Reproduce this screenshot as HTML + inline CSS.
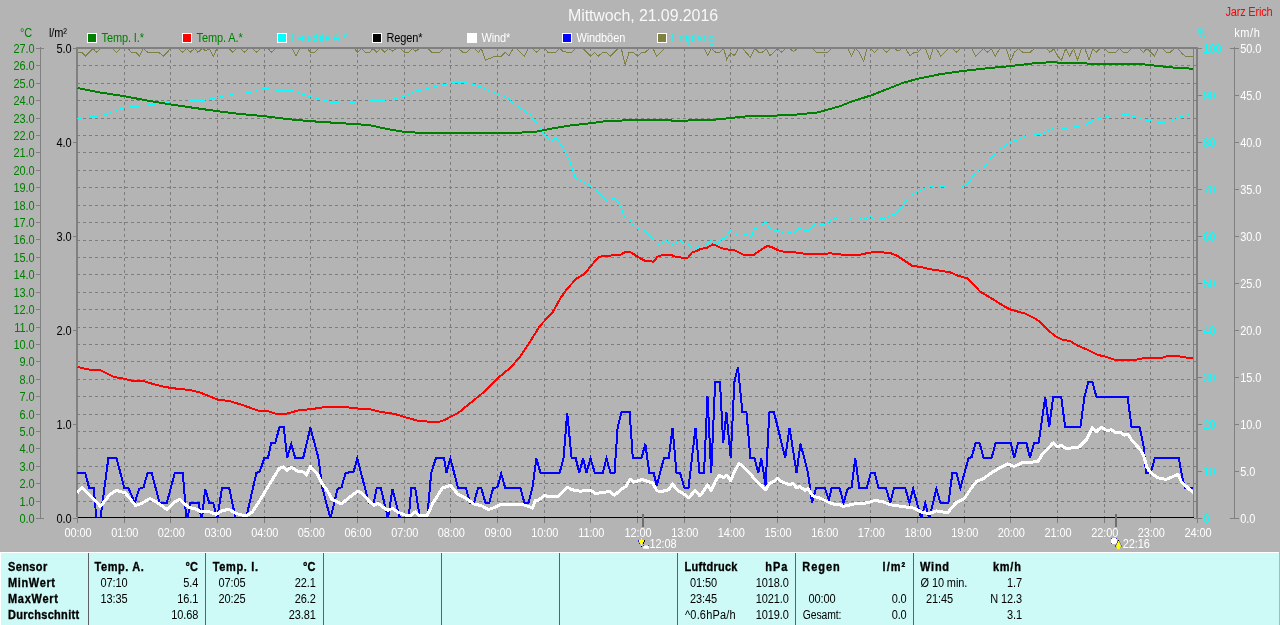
<!DOCTYPE html>
<html lang="de"><head><meta charset="utf-8"><title>Mittwoch, 21.09.2016</title>
<style>html,body{margin:0;padding:0;background:#B4B4B4;overflow:hidden}svg{display:block;will-change:transform}</style>
</head><body>
<svg width="1280" height="625" viewBox="0 0 1280 625" font-family="&quot;Liberation Sans&quot;, sans-serif" font-size="11px" letter-spacing="-0.1">
<rect width="1280" height="625" fill="#B4B4B4"/>
<path d="M124.2 48V517 M170.8 48V517 M217.5 48V517 M264.2 48V517 M310.8 48V517 M357.5 48V517 M404.2 48V517 M450.8 48V517 M497.5 48V517 M544.2 48V517 M590.8 48V517 M637.5 48V517 M684.2 48V517 M730.8 48V517 M777.5 48V517 M824.2 48V517 M870.8 48V517 M917.5 48V517 M964.2 48V517 M1010.8 48V517 M1057.5 48V517 M1104.2 48V517 M1150.8 48V517 M77 501.1H1197 M77 483.7H1197 M77 466.3H1197 M77 448.9H1197 M77 431.5H1197 M77 414.1H1197 M77 396.6H1197 M77 379.2H1197 M77 361.8H1197 M77 344.4H1197 M77 327.0H1197 M77 309.6H1197 M77 292.2H1197 M77 274.8H1197 M77 257.4H1197 M77 240.0H1197 M77 222.6H1197 M77 205.2H1197 M77 187.8H1197 M77 170.4H1197 M77 152.9H1197 M77 135.5H1197 M77 118.1H1197 M77 100.7H1197 M77 83.3H1197 M77 65.9H1197" stroke="#7d7d7d" stroke-width="1" stroke-dasharray="3 3" fill="none" shape-rendering="crispEdges"/>
<path d="M124.2 518V523 M170.8 518V523 M217.5 518V523 M264.2 518V523 M310.8 518V523 M357.5 518V523 M404.2 518V523 M450.8 518V523 M497.5 518V523 M544.2 518V523 M590.8 518V523 M637.5 518V523 M684.2 518V523 M730.8 518V523 M777.5 518V523 M824.2 518V523 M870.8 518V523 M917.5 518V523 M964.2 518V523 M1010.8 518V523 M1057.5 518V523 M1104.2 518V523 M1150.8 518V523" stroke="#7d7d7d" stroke-width="1" fill="none" shape-rendering="crispEdges"/>
<rect x="76" y="47" width="2" height="470" fill="#808080"/><rect x="77" y="517" width="1" height="6" fill="#808080"/>
<clipPath id="pc"><rect x="77" y="47" width="1117" height="470"/></clipPath><g clip-path="url(#pc)" shape-rendering="crispEdges">
<polyline points="77.7,52.3 82.0,52.3 85.3,56.2 93.0,48.5 96.3,52.3 100.6,48.5 112.7,48.5 116.4,52.3 120.8,48.5 128.0,48.5 131.3,52.3 135.6,52.3 139.6,56.2 143.3,48.5 147.7,52.3 158.6,52.3 163.6,56.2 170.6,48.5 178.3,48.5 182.7,52.3 186.6,48.5 190.3,52.3 194.3,48.5 198.0,52.3 201.9,48.5 205.6,50.7 209.4,48.5 213.3,56.2 217.0,48.5 228.6,48.5 233.0,52.3 236.3,48.5 240.2,48.5 244.4,52.3 248.3,48.5 252.7,48.5 256.4,52.3 260.3,48.5 268.0,48.5 271.3,52.3 275.6,48.5 292.0,48.5 296.0,55.6 299.7,48.5 307.4,48.5 310.6,52.3 315.0,52.3 318.3,48.5 354.4,48.5 357.7,52.3 361.4,48.5 365.3,52.3 369.7,52.3 373.0,48.5 376.7,52.3 380.6,48.5 385.0,52.3 388.7,48.5 392.7,51.2 396.4,48.5 400.3,48.5 404.7,52.3 408.6,52.3 412.3,48.5 415.6,51.2 419.6,48.5 427.7,48.5 432.0,52.3 439.7,52.3 443.6,48.5 458.7,48.5 462.7,52.3 466.6,52.3 470.3,48.5 474.7,48.5 478.6,52.3 481.3,48.5 485.6,60.2 493.3,56.9 501.4,56.2 505.3,52.3 509.0,56.2 513.0,48.5 516.3,48.5 524.4,56.2 528.3,48.5 532.7,48.5 536.4,52.3 540.3,48.5 544.3,48.5 548.0,52.3 555.6,52.3 559.6,48.5 563.3,51.6 571.0,52.9 575.3,48.5 583.0,48.5 590.6,56.2 594.6,52.3 598.3,56.2 602.7,52.3 606.0,52.3 610.3,56.2 618.0,48.5 621.3,48.5 625.2,65.0 629.0,52.3 633.3,52.3 637.7,56.2 641.4,52.3 645.3,52.3 649.3,48.5 653.0,48.5 656.7,56.2 664.6,48.5 704.4,48.5 707.7,55.1 711.4,48.5 715.8,52.3 719.7,52.3 723.6,48.5 726.7,59.5 730.6,52.9 734.4,55.6 738.3,48.5 742.7,48.5 750.3,57.3 754.7,48.5 759.0,52.3 762.4,52.3 766.3,48.5 770.0,55.6 777.7,48.5 781.4,52.3 785.3,48.5 789.7,48.5 793.6,51.6 797.4,48.5 812.7,48.5 816.4,52.3 828.0,52.3 831.3,48.5 847.7,48.5 851.6,56.2 855.3,48.5 859.3,52.3 863.6,61.3 866.9,48.5 870.6,48.5 874.6,52.3 878.3,48.5 882.7,48.5 886.4,52.3 890.3,48.5 894.3,48.5 898.0,51.2 901.9,48.5 905.6,48.5 910.0,55.6 914.4,52.3 917.7,52.3 921.4,48.5 925.3,48.5 929.7,59.5 933.0,48.5 936.3,48.5 940.6,56.2 948.7,48.5 952.7,48.5 956.4,52.3 960.3,48.5 971.9,48.5 975.6,56.2 983.3,48.5 987.7,52.3 991.4,48.5 995.3,56.2 999.7,48.5 1006.3,48.5 1010.6,61.3 1014.4,52.3 1018.3,48.5 1022.7,52.3 1030.3,52.3 1034.3,48.5 1046.3,48.5 1050.0,52.3 1054.0,48.5 1057.7,56.2 1061.4,60.2 1065.8,48.5 1069.7,56.2 1073.6,48.5 1077.4,60.2 1081.7,48.5 1085.0,48.5 1089.0,60.2 1092.7,48.5 1096.0,52.3 1100.3,48.5 1104.7,48.5 1108.0,52.3 1115.6,52.3 1119.6,48.5 1123.3,52.3 1127.7,52.3 1131.6,48.5 1139.3,48.5 1143.6,52.3 1146.9,48.5 1154.6,56.2 1158.3,48.5 1162.7,48.5 1166.4,52.3 1170.3,52.3 1174.3,48.5 1178.0,48.5 1182.4,54.0 1185.6,56.2 1193.5,56.2" fill="none" stroke="#808040" stroke-width="1"/>
<polyline points="77.5,118.5 102.5,115.5 124.5,107.5 145.0,105.5 170.8,101.8 202.5,100.5 217.5,97.5 232.5,94.2 250.0,92.5 264.2,88.2 277.5,90.2 292.5,90.5 310.8,97.0 332.5,102.5 345.0,103.5 357.5,101.8 390.0,99.7 404.2,96.2 415.0,91.2 430.0,88.0 450.8,83.0 465.0,82.5 475.0,84.5 485.0,89.0 497.5,93.8 507.5,98.0 520.0,108.0 530.0,114.5 540.0,127.5 544.2,134.5 551.2,142.0 555.5,137.5 562.5,146.2 570.0,162.5 575.0,177.0 580.0,180.5 590.8,186.2 598.8,193.0 606.2,200.5 613.8,198.2 618.8,202.5 625.0,218.0 628.8,217.0 633.8,227.0 645.0,230.5 651.2,237.0 656.2,243.8 660.5,245.8 664.2,239.5 672.5,244.5 680.8,240.5 685.0,244.2 688.0,243.0 691.8,249.5 695.5,249.2 702.5,241.2 706.2,245.0 711.2,240.5 716.2,244.2 721.2,239.5 726.2,237.5 730.8,229.5 735.0,234.2 740.0,235.5 746.2,234.5 750.8,237.0 755.0,228.2 758.8,229.5 765.5,221.8 769.2,228.0 773.8,230.0 777.5,230.0 785.5,233.8 790.0,232.0 793.2,233.8 798.8,228.2 808.0,231.2 813.8,225.0 817.5,223.2 824.2,225.0 832.5,219.5 840.0,217.0 843.8,218.0 847.5,217.0 852.5,219.5 858.8,219.2 862.5,217.5 866.2,219.0 870.0,216.5 875.0,219.5 885.0,218.2 893.8,214.5 900.0,209.2 910.0,195.5 925.0,188.0 936.2,185.5 950.0,188.0 960.0,187.8 968.0,184.0 976.0,172.0 983.8,167.0 997.5,150.5 1010.8,142.5 1025.0,136.2 1040.0,134.2 1056.2,127.0 1065.0,128.5 1085.0,125.0 1095.0,119.5 1110.0,115.8 1127.5,114.5 1145.0,120.0 1160.0,122.5 1170.0,121.5 1182.5,116.2 1193.0,113.2" fill="none" stroke="#00FFFF" stroke-width="1" stroke-linejoin="round"/>
<polyline points="77.5,88.0 100.0,92.5 124.5,96.2 147.0,100.5 170.8,104.5 195.0,108.0 217.5,111.2 240.0,114.0 264.2,116.2 287.0,119.0 310.8,121.2 335.0,122.8 357.5,124.2 370.0,125.2 380.0,127.5 390.0,129.5 404.2,131.8 420.0,132.8 450.0,132.8 515.0,132.8 535.0,132.0 544.2,130.0 555.0,128.0 570.0,125.5 590.8,123.2 605.0,121.2 622.5,120.5 637.5,120.0 670.0,120.0 672.5,120.8 710.0,120.1 730.8,118.0 747.5,116.2 777.5,115.5 797.5,114.5 817.5,112.5 840.0,106.2 852.5,101.2 870.8,95.5 890.0,88.0 902.5,83.0 917.5,78.8 940.0,74.2 964.2,70.8 985.0,68.5 1010.8,66.0 1035.0,63.2 1053.8,62.0 1060.0,63.0 1085.0,63.2 1090.0,64.0 1140.0,64.0 1150.8,65.2 1172.5,67.5 1193.8,68.8" fill="none" stroke="#008000" stroke-width="2" stroke-linejoin="round"/>
<polyline points="77.5,367.0 88.8,369.5 100.0,370.0 113.8,377.0 124.5,378.8 132.5,380.8 142.5,380.8 155.0,384.5 165.0,387.0 177.5,388.8 190.0,390.0 200.0,392.5 217.5,399.5 230.0,401.2 242.5,405.0 257.5,410.5 267.5,411.0 276.2,413.8 286.2,413.8 300.0,410.0 311.2,409.2 325.0,407.0 345.0,407.0 357.5,408.5 370.0,409.2 380.0,411.8 394.4,413.8 404.3,417.0 418.4,420.8 437.6,422.4 444.0,420.2 458.4,412.8 472.8,401.0 484.0,392.0 497.8,378.2 511.2,367.0 520.8,355.7 532.0,338.6 540.0,325.8 552.8,312.0 560.8,297.6 567.2,288.6 576.8,278.4 584.8,273.6 591.2,265.6 598.6,257.0 605.0,255.8 620.0,255.0 625.8,251.8 631.2,252.5 638.8,257.5 644.5,260.5 653.8,261.8 657.5,256.8 662.5,255.0 671.2,255.0 675.0,256.5 682.5,257.8 688.2,257.5 691.8,252.5 696.2,251.2 701.2,248.8 707.5,247.5 712.5,244.5 716.2,245.5 721.2,248.0 727.5,249.5 733.8,250.0 743.8,255.0 753.8,255.0 761.2,249.5 767.5,245.8 772.5,247.5 778.8,250.5 783.8,251.8 792.5,252.0 805.0,253.8 827.5,253.8 830.0,252.8 832.5,253.8 845.0,254.8 860.0,254.8 867.5,253.0 875.0,252.0 890.0,252.8 897.5,256.0 912.5,266.0 920.0,266.8 930.0,269.2 950.0,272.2 957.5,275.5 967.5,278.5 980.0,291.5 992.5,299.0 1005.0,306.8 1011.2,309.8 1025.0,313.5 1035.0,318.5 1041.2,322.8 1046.2,328.5 1055.0,336.0 1062.5,339.8 1070.0,341.0 1077.5,345.5 1087.5,349.8 1097.5,354.8 1105.0,356.5 1115.0,359.8 1135.0,359.8 1145.0,358.0 1162.5,357.8 1167.5,356.0 1177.5,356.0 1187.5,357.8 1193.8,357.8" fill="none" stroke="#FF0000" stroke-width="2" stroke-linejoin="round"/>
<polyline points="77.2,472.8 85.2,472.8 89.2,488.0 93.7,488.0 96.4,518.5 100.4,518.5 108.4,457.9 116.4,457.9 124.4,488.0 128.4,488.0 134.8,502.9 139.1,488.8 143.6,487.2 147.6,472.8 151.6,472.8 159.6,502.9 166.8,502.9 174.8,472.8 182.8,472.8 185.2,502.9 186.0,518.5 187.6,518.5 190.0,502.9 198.8,502.9 201.2,518.5 202.0,518.5 205.2,488.8 209.2,502.9 213.2,502.9 217.2,518.5 222.0,488.0 229.2,488.0 235.6,518.5 246.0,518.5 256.4,472.8 259.6,472.0 264.4,457.9 268.0,457.9 271.2,443.2 275.2,443.2 279.5,426.9 283.7,426.9 287.2,457.9 291.2,444.0 295.2,457.9 303.2,457.9 310.4,427.7 318.4,457.9 322.4,488.0 330.4,518.5 337.6,488.8 341.6,487.2 345.6,472.8 353.6,472.0 357.3,458.4 368.8,502.9 373.6,502.9 376.8,488.0 380.8,488.0 388.0,518.5 392.5,488.8 400.0,518.5 408.8,518.5 411.2,488.0 415.2,488.0 420.0,518.5 427.2,518.5 431.2,472.8 436.0,457.9 444.0,457.9 446.4,472.8 450.4,458.4 458.0,488.0 466.0,488.0 470.0,502.9 474.0,502.9 478.0,488.0 481.2,488.0 485.5,502.9 489.2,502.9 493.2,488.0 497.5,487.2 501.2,473.6 505.2,488.0 520.4,488.0 524.4,502.9 528.4,502.9 532.4,488.0 536.4,458.4 540.4,472.8 559.6,472.8 563.6,457.9 567.2,412.8 571.6,457.9 575.6,457.9 579.3,472.8 583.1,458.4 586.5,472.8 590.5,458.4 594.8,472.8 602.8,472.8 606.5,458.4 610.5,472.8 614.5,472.8 617.6,428.0 621.6,411.7 629.6,411.7 632.8,458.0 641.6,458.0 645.3,443.7 649.3,472.8 653.6,472.8 656.8,485.6 664.0,457.9 668.8,457.9 672.5,427.7 676.5,472.8 680.0,472.8 684.5,488.0 688.5,488.0 695.5,427.7 699.5,472.8 704.0,472.8 707.5,396.5 711.2,472.8 715.2,382.0 720.0,382.0 723.2,442.8 726.4,412.4 730.7,457.9 734.4,382.0 737.9,367.0 742.4,411.6 746.4,411.6 750.4,457.9 754.4,457.9 758.4,472.8 761.3,458.4 765.6,485.6 769.3,412.4 773.6,411.6 776.0,420.4 785.3,457.9 789.6,427.7 796.5,472.8 800.5,443.7 808.0,472.8 812.0,502.9 816.0,488.0 824.8,488.0 828.8,500.0 831.6,488.0 839.6,488.0 843.6,502.9 847.6,488.8 851.6,487.2 855.3,458.4 859.3,488.0 866.8,488.0 870.8,472.8 874.8,472.8 878.5,488.0 886.0,488.0 890.3,502.9 894.0,488.0 905.2,488.0 909.5,502.9 913.2,488.8 921.2,518.5 925.2,503.2 929.2,518.5 936.4,488.8 940.4,502.9 948.4,502.9 952.4,472.8 956.4,472.8 960.4,488.0 968.4,458.4 971.6,457.1 975.6,443.2 979.6,443.2 983.6,457.9 991.6,457.9 995.6,443.2 1010.8,443.2 1014.3,457.9 1018.0,443.2 1026.5,443.2 1030.0,457.9 1034.0,443.2 1038.8,442.5 1045.2,397.2 1049.2,427.1 1053.2,396.9 1061.2,396.9 1065.2,427.1 1080.4,427.1 1084.4,396.9 1088.4,382.0 1092.4,382.0 1096.4,396.9 1127.6,396.9 1131.6,427.1 1139.6,427.1 1143.6,446.0 1146.0,472.8 1150.8,472.8 1154.8,457.9 1178.8,457.9 1182.0,476.0 1185.2,488.0 1194.0,488.0" fill="none" stroke="#0000FF" stroke-width="2" stroke-linejoin="miter"/>
<polyline points="77.2,492.8 82.0,487.2 90.8,496.0 100.4,506.4 110.0,494.4 116.4,490.4 125.2,492.8 135.6,505.6 142.0,503.2 150.0,498.4 159.6,504.0 166.8,509.6 174.0,502.4 179.6,499.2 188.4,507.2 194.8,508.8 202.0,512.0 207.6,511.2 216.4,514.4 222.0,510.4 229.2,509.6 236.4,513.6 246.0,516.0 252.4,512.0 262.0,496.8 269.6,484.0 279.2,468.5 283.2,466.9 287.2,470.4 291.2,467.2 297.6,471.2 303.2,472.0 306.4,475.2 310.4,466.4 317.6,474.4 322.4,484.0 327.2,490.4 332.0,499.2 336.8,501.6 341.6,504.0 348.0,498.4 357.6,491.2 362.4,493.6 368.8,500.8 373.9,505.6 377.6,503.2 383.2,507.2 388.0,510.4 392.5,508.3 397.6,512.0 405.6,515.2 411.2,515.2 415.2,512.0 418.4,515.2 427.2,515.5 432.8,503.2 442.4,488.0 450.4,485.3 458.0,494.4 466.0,498.4 474.0,504.0 481.2,505.6 488.4,509.6 493.2,508.0 501.2,504.0 520.4,504.0 528.4,506.4 532.4,508.0 535.6,500.0 538.8,500.0 544.4,495.2 547.6,496.5 558.8,496.0 567.6,487.2 571.6,489.6 579.6,491.2 590.8,490.4 595.6,493.6 602.8,492.3 610.0,491.7 614.5,495.2 622.0,488.8 626.0,486.4 630.0,479.2 634.0,482.1 642.0,479.5 652.8,483.2 656.8,490.4 660.0,492.0 668.8,489.6 672.5,484.0 677.6,490.4 683.2,493.6 688.8,497.6 695.2,490.4 700.0,496.0 704.0,490.4 707.5,484.8 711.2,490.4 715.2,481.6 719.2,475.2 723.2,477.6 726.9,475.2 730.7,480.8 734.4,471.2 739.2,463.5 744.8,468.0 750.4,473.6 755.2,480.0 761.6,485.6 765.6,489.9 769.6,483.2 773.6,481.6 777.6,478.4 781.6,481.6 789.6,484.8 792.8,483.2 796.8,488.0 800.0,486.4 804.8,490.4 808.0,488.8 812.8,496.0 820.8,498.4 828.8,502.4 835.6,504.8 838.8,504.0 843.6,506.4 854.0,504.0 866.8,502.9 874.8,500.5 882.8,501.6 890.3,504.8 902.0,506.4 913.2,508.0 921.2,512.0 929.2,513.6 936.4,510.9 947.6,512.8 956.4,502.4 964.4,498.4 970.8,488.8 976.4,481.6 983.6,478.4 991.6,472.8 999.6,468.0 1007.6,464.0 1014.0,466.4 1022.0,462.9 1038.0,461.6 1042.8,453.6 1053.2,442.9 1057.5,446.9 1061.2,445.3 1066.0,448.5 1078.8,447.2 1086.8,439.2 1092.4,427.7 1096.4,431.5 1101.2,427.2 1107.6,430.9 1110.8,429.6 1115.6,432.5 1120.4,432.5 1124.4,435.2 1128.0,434.0 1131.6,440.0 1139.6,448.8 1143.6,455.2 1146.8,467.2 1150.8,472.8 1157.2,477.6 1166.0,479.5 1178.0,474.4 1181.2,481.6 1194.0,493.6" fill="none" stroke="#FFFFFF" stroke-width="3" stroke-linejoin="round"/>
</g>
<rect x="78" y="47" width="1120" height="2" fill="#808080"/>
<rect x="1193" y="49" width="1" height="468" fill="#808080"/>
<rect x="1196" y="47" width="2" height="471" fill="#808080"/><rect x="1197" y="518" width="1" height="5" fill="#808080"/>
<rect x="78" y="517" width="1116" height="1" fill="#000"/>
<rect x="642" y="514" width="2" height="13" fill="#6e6e6e"/>
<rect x="1115" y="514" width="2" height="13" fill="#6e6e6e"/>
<rect x="40" y="47" width="1" height="471" fill="#808080"/>
<path d="M36 518.5H44 M36 501.5H40 M36 483.5H40 M36 466.5H40 M36 448.5H40 M36 431.5H40 M36 414.5H40 M36 396.5H40 M36 379.5H40 M36 361.5H40 M36 344.5H40 M36 327.5H40 M36 309.5H40 M36 292.5H40 M36 274.5H40 M36 257.5H40 M36 239.5H40 M36 222.5H40 M36 205.5H40 M36 187.5H40 M36 170.5H40 M36 152.5H40 M36 135.5H40 M36 118.5H40 M36 100.5H40 M36 83.5H40 M36 65.5H40 M36 48.5H44" stroke="#808080" stroke-width="1" fill="none" shape-rendering="crispEdges"/>
<text transform="translate(34.4 523.0) scale(1 1.12)" text-anchor="end" fill="#008000">0.0</text>
<text transform="translate(34.4 506.0) scale(1 1.12)" text-anchor="end" fill="#008000">1.0</text>
<text transform="translate(34.4 488.0) scale(1 1.12)" text-anchor="end" fill="#008000">2.0</text>
<text transform="translate(34.4 471.0) scale(1 1.12)" text-anchor="end" fill="#008000">3.0</text>
<text transform="translate(34.4 453.0) scale(1 1.12)" text-anchor="end" fill="#008000">4.0</text>
<text transform="translate(34.4 436.0) scale(1 1.12)" text-anchor="end" fill="#008000">5.0</text>
<text transform="translate(34.4 419.0) scale(1 1.12)" text-anchor="end" fill="#008000">6.0</text>
<text transform="translate(34.4 401.0) scale(1 1.12)" text-anchor="end" fill="#008000">7.0</text>
<text transform="translate(34.4 384.0) scale(1 1.12)" text-anchor="end" fill="#008000">8.0</text>
<text transform="translate(34.4 366.0) scale(1 1.12)" text-anchor="end" fill="#008000">9.0</text>
<text transform="translate(34.4 349.0) scale(1 1.12)" text-anchor="end" fill="#008000">10.0</text>
<text transform="translate(34.4 332.0) scale(1 1.12)" text-anchor="end" fill="#008000">11.0</text>
<text transform="translate(34.4 314.0) scale(1 1.12)" text-anchor="end" fill="#008000">12.0</text>
<text transform="translate(34.4 297.0) scale(1 1.12)" text-anchor="end" fill="#008000">13.0</text>
<text transform="translate(34.4 279.0) scale(1 1.12)" text-anchor="end" fill="#008000">14.0</text>
<text transform="translate(34.4 262.0) scale(1 1.12)" text-anchor="end" fill="#008000">15.0</text>
<text transform="translate(34.4 244.0) scale(1 1.12)" text-anchor="end" fill="#008000">16.0</text>
<text transform="translate(34.4 227.0) scale(1 1.12)" text-anchor="end" fill="#008000">17.0</text>
<text transform="translate(34.4 210.0) scale(1 1.12)" text-anchor="end" fill="#008000">18.0</text>
<text transform="translate(34.4 192.0) scale(1 1.12)" text-anchor="end" fill="#008000">19.0</text>
<text transform="translate(34.4 175.0) scale(1 1.12)" text-anchor="end" fill="#008000">20.0</text>
<text transform="translate(34.4 157.0) scale(1 1.12)" text-anchor="end" fill="#008000">21.0</text>
<text transform="translate(34.4 140.0) scale(1 1.12)" text-anchor="end" fill="#008000">22.0</text>
<text transform="translate(34.4 123.0) scale(1 1.12)" text-anchor="end" fill="#008000">23.0</text>
<text transform="translate(34.4 105.0) scale(1 1.12)" text-anchor="end" fill="#008000">24.0</text>
<text transform="translate(34.4 88.0) scale(1 1.12)" text-anchor="end" fill="#008000">25.0</text>
<text transform="translate(34.4 70.0) scale(1 1.12)" text-anchor="end" fill="#008000">26.0</text>
<text transform="translate(34.4 53.0) scale(1 1.12)" text-anchor="end" fill="#008000">27.0</text>
<text transform="translate(71.4 523.0) scale(1 1.12)" text-anchor="end" fill="#000">0.0</text>
<text transform="translate(71.4 429.0) scale(1 1.12)" text-anchor="end" fill="#000">1.0</text>
<text transform="translate(71.4 335.0) scale(1 1.12)" text-anchor="end" fill="#000">2.0</text>
<text transform="translate(71.4 241.0) scale(1 1.12)" text-anchor="end" fill="#000">3.0</text>
<text transform="translate(71.4 147.0) scale(1 1.12)" text-anchor="end" fill="#000">4.0</text>
<text transform="translate(71.4 53.0) scale(1 1.12)" text-anchor="end" fill="#000">5.0</text>
<path d="M73 518.5H77 M73 424.5H77 M73 330.5H77 M73 236.5H77 M73 142.5H77 M73 48.5H77" stroke="#808080" stroke-width="1" fill="none" shape-rendering="crispEdges"/>
<text transform="translate(1203.2 523.0) scale(1 1.12)" fill="#00FFFF">0</text>
<text transform="translate(1203.2 476.0) scale(1 1.12)" fill="#00FFFF">10</text>
<text transform="translate(1203.2 429.0) scale(1 1.12)" fill="#00FFFF">20</text>
<text transform="translate(1203.2 382.0) scale(1 1.12)" fill="#00FFFF">30</text>
<text transform="translate(1203.2 335.0) scale(1 1.12)" fill="#00FFFF">40</text>
<text transform="translate(1203.2 288.0) scale(1 1.12)" fill="#00FFFF">50</text>
<text transform="translate(1203.2 241.0) scale(1 1.12)" fill="#00FFFF">60</text>
<text transform="translate(1203.2 194.0) scale(1 1.12)" fill="#00FFFF">70</text>
<text transform="translate(1203.2 147.0) scale(1 1.12)" fill="#00FFFF">80</text>
<text transform="translate(1203.2 100.0) scale(1 1.12)" fill="#00FFFF">90</text>
<text transform="translate(1203.2 53.0) scale(1 1.12)" fill="#00FFFF">100</text>
<path d="M1194 518.5H1202 M1198 471.5H1202 M1198 424.5H1202 M1198 377.5H1202 M1198 330.5H1202 M1198 283.5H1202 M1198 236.5H1202 M1198 189.5H1202 M1198 142.5H1202 M1198 95.5H1202 M1198 48.5H1202" stroke="#808080" stroke-width="1" fill="none" shape-rendering="crispEdges"/>
<rect x="1234" y="47" width="1" height="471" fill="#808080"/>
<text transform="translate(1240.2 523.0) scale(1 1.12)" fill="#FFFFFF">0.0</text>
<text transform="translate(1240.2 476.0) scale(1 1.12)" fill="#FFFFFF">5.0</text>
<text transform="translate(1240.2 429.0) scale(1 1.12)" fill="#FFFFFF">10.0</text>
<text transform="translate(1240.2 382.0) scale(1 1.12)" fill="#FFFFFF">15.0</text>
<text transform="translate(1240.2 335.0) scale(1 1.12)" fill="#FFFFFF">20.0</text>
<text transform="translate(1240.2 288.0) scale(1 1.12)" fill="#FFFFFF">25.0</text>
<text transform="translate(1240.2 241.0) scale(1 1.12)" fill="#FFFFFF">30.0</text>
<text transform="translate(1240.2 194.0) scale(1 1.12)" fill="#FFFFFF">35.0</text>
<text transform="translate(1240.2 147.0) scale(1 1.12)" fill="#FFFFFF">40.0</text>
<text transform="translate(1240.2 100.0) scale(1 1.12)" fill="#FFFFFF">45.0</text>
<text transform="translate(1240.2 53.0) scale(1 1.12)" fill="#FFFFFF">50.0</text>
<path d="M1230 518.5H1239 M1234 471.5H1239 M1234 424.5H1239 M1234 377.5H1239 M1234 330.5H1239 M1234 283.5H1239 M1234 236.5H1239 M1234 189.5H1239 M1234 142.5H1239 M1234 95.5H1239 M1230 48.5H1239" stroke="#808080" stroke-width="1" fill="none" shape-rendering="crispEdges"/>
<text transform="translate(20 37) scale(1 1.12)" fill="#008000">°C</text>
<text transform="translate(49 37) scale(1 1.12)" fill="#000">l/m²</text>
<text transform="translate(1198 37) scale(1 1.12)" fill="#00FFFF" textLength="8" lengthAdjust="spacingAndGlyphs">%</text>
<text transform="translate(1234.2 37) scale(1 1.12)" fill="#FFFFFF" textLength="25.5">km/h</text>
<text transform="translate(1225.5 16) scale(1 1.12)" fill="#FF0000" textLength="47">Jarz Erich</text>
<text transform="translate(643 21) scale(1 1.04)" font-size="16px" text-anchor="middle" fill="#FFFFFF" fill-opacity=".9" textLength="150">Mittwoch, 21.09.2016</text>
<rect x="87" y="33" width="10" height="10" fill="#FFFFFF"/><rect x="88" y="34" width="8" height="8" fill="#008000"/>
<text transform="translate(101.5 42) scale(1 1.12)" fill="#008000">Temp. I.*</text>
<rect x="182" y="33" width="10" height="10" fill="#FFFFFF"/><rect x="183" y="34" width="8" height="8" fill="#FF0000"/>
<text transform="translate(196.5 42) scale(1 1.12)" fill="#008000">Temp. A.*</text>
<rect x="277" y="33" width="10" height="10" fill="#FFFFFF"/><rect x="278" y="34" width="8" height="8" fill="#00FFFF"/>
<text transform="translate(291.5 42) scale(1 1.12)" fill="#00FFFF">Feuchte A.*</text>
<rect x="372" y="33" width="10" height="10" fill="#FFFFFF"/><rect x="373" y="34" width="8" height="8" fill="#000000"/>
<text transform="translate(386.5 42) scale(1 1.12)" fill="#000000">Regen*</text>
<rect x="467" y="33" width="10" height="10" fill="#FFFFFF"/><rect x="468" y="34" width="8" height="8" fill="#FFFFFF"/>
<text transform="translate(481.5 42) scale(1 1.12)" fill="#FFFFFF">Wind*</text>
<rect x="562" y="33" width="10" height="10" fill="#FFFFFF"/><rect x="563" y="34" width="8" height="8" fill="#0000FF"/>
<text transform="translate(576.5 42) scale(1 1.12)" fill="#FFFFFF">Windböen</text>
<rect x="657" y="33" width="10" height="10" fill="#FFFFFF"/><rect x="658" y="34" width="8" height="8" fill="#808040"/>
<text transform="translate(671.5 42) scale(1 1.12)" fill="#00FFFF">Empfang</text>
<text transform="translate(78.0 536.9) scale(1 1.12)" text-anchor="middle" fill="#FFFFFF">00:00</text>
<text transform="translate(124.7 536.9) scale(1 1.12)" text-anchor="middle" fill="#FFFFFF">01:00</text>
<text transform="translate(171.3 536.9) scale(1 1.12)" text-anchor="middle" fill="#FFFFFF">02:00</text>
<text transform="translate(218.0 536.9) scale(1 1.12)" text-anchor="middle" fill="#FFFFFF">03:00</text>
<text transform="translate(264.7 536.9) scale(1 1.12)" text-anchor="middle" fill="#FFFFFF">04:00</text>
<text transform="translate(311.3 536.9) scale(1 1.12)" text-anchor="middle" fill="#FFFFFF">05:00</text>
<text transform="translate(358.0 536.9) scale(1 1.12)" text-anchor="middle" fill="#FFFFFF">06:00</text>
<text transform="translate(404.7 536.9) scale(1 1.12)" text-anchor="middle" fill="#FFFFFF">07:00</text>
<text transform="translate(451.3 536.9) scale(1 1.12)" text-anchor="middle" fill="#FFFFFF">08:00</text>
<text transform="translate(498.0 536.9) scale(1 1.12)" text-anchor="middle" fill="#FFFFFF">09:00</text>
<text transform="translate(544.7 536.9) scale(1 1.12)" text-anchor="middle" fill="#FFFFFF">10:00</text>
<text transform="translate(591.3 536.9) scale(1 1.12)" text-anchor="middle" fill="#FFFFFF">11:00</text>
<text transform="translate(638.0 536.9) scale(1 1.12)" text-anchor="middle" fill="#FFFFFF">12:00</text>
<text transform="translate(684.7 536.9) scale(1 1.12)" text-anchor="middle" fill="#FFFFFF">13:00</text>
<text transform="translate(731.3 536.9) scale(1 1.12)" text-anchor="middle" fill="#FFFFFF">14:00</text>
<text transform="translate(778.0 536.9) scale(1 1.12)" text-anchor="middle" fill="#FFFFFF">15:00</text>
<text transform="translate(824.7 536.9) scale(1 1.12)" text-anchor="middle" fill="#FFFFFF">16:00</text>
<text transform="translate(871.3 536.9) scale(1 1.12)" text-anchor="middle" fill="#FFFFFF">17:00</text>
<text transform="translate(918.0 536.9) scale(1 1.12)" text-anchor="middle" fill="#FFFFFF">18:00</text>
<text transform="translate(964.7 536.9) scale(1 1.12)" text-anchor="middle" fill="#FFFFFF">19:00</text>
<text transform="translate(1011.3 536.9) scale(1 1.12)" text-anchor="middle" fill="#FFFFFF">20:00</text>
<text transform="translate(1058.0 536.9) scale(1 1.12)" text-anchor="middle" fill="#FFFFFF">21:00</text>
<text transform="translate(1104.7 536.9) scale(1 1.12)" text-anchor="middle" fill="#FFFFFF">22:00</text>
<text transform="translate(1151.3 536.9) scale(1 1.12)" text-anchor="middle" fill="#FFFFFF">23:00</text>
<text transform="translate(1198.0 536.9) scale(1 1.12)" text-anchor="middle" fill="#FFFFFF">24:00</text>
<text transform="translate(649.5 547.9) scale(1 1.12)" fill="#FFFFFF">12:08</text>
<text transform="translate(1122.8 547.9) scale(1 1.12)" fill="#FFFFFF">22:16</text>
<g shape-rendering="crispEdges"><path d="M640.6 538H642.2V539.8H644.2V541.5L643.2 542.6 642.4 544.2 641.9 546.2H641L640.6 544.2 639.6 542.4 638.8 541.5V539.8H640.6Z" fill="#FFFF00"/><path d="M638 540h.7v1.6h-.7zM639.1 542.6h.6v1h-.6zM640 544.6h.5v.8h-.5zM643 545.1h.7v.7h-.7zM648 545.1h.8v.9h-.8z" fill="#2828C8"/><path d="M644.2 540.2h.6v1.4h-.6zM643.4 542.4h.6v1.2h-.6zM642.5 544.4h.6v1h-.6zM641 546.1h.8v.8h-.8z" fill="#000"/></g><path d="M643.2 548.8V546.8Q643.5 545.4 645.2 545.4H647Q648.7 545.4 649 546.8V548.8Z" fill="#FFFFFF"/>
<rect x="1111" y="538" width="6" height="6" rx="1.6" fill="#FFFFFF"/><path d="M1111 538h1v1h-1zM1116 538h1v1h-1zM1111 543h1v1h-1z" fill="#2828C8" opacity=".85"/><path d="M1118.4 540.3L1121.2 546.8H1119.8V549.2H1117V546.8H1116Z" fill="#FFFF00"/><path d="M1117.8 540h1.2v1h-1.2zM1117 541.4h.8v1.4h-.8zM1116 543.4h.8v1.2h-.8zM1115 545.2h.8v1.6h-.8z" fill="#000"/><path d="M1119.4 541.2h.6v1.2h-.6zM1120.2 543.2h.6v1.2h-.6zM1121.2 545.2h.8v1.6h-.8z" fill="#3838D8"/>
<rect x="0" y="552" width="1279" height="73" fill="#FFFFFF"/>
<rect x="1" y="553" width="1278" height="72" fill="#CDF9F6"/>
<rect x="88" y="553" width="1" height="72" fill="#606060"/>
<rect x="205" y="553" width="1" height="72" fill="#606060"/>
<rect x="323" y="553" width="1" height="72" fill="#606060"/>
<rect x="441" y="553" width="1" height="72" fill="#606060"/>
<rect x="559" y="553" width="1" height="72" fill="#606060"/>
<rect x="677" y="553" width="1" height="72" fill="#606060"/>
<rect x="795" y="553" width="1" height="72" fill="#606060"/>
<rect x="913" y="553" width="1" height="72" fill="#606060"/>
<text transform="translate(8 570.5) scale(1 1.12)" font-weight="bold" letter-spacing="0.4" stroke="#000" stroke-width="0.3" fill="#000">Sensor</text>
<text transform="translate(8 586.5) scale(1 1.12)" font-weight="bold" letter-spacing="0.65" stroke="#000" stroke-width="0.3" fill="#000">MinWert</text>
<text transform="translate(8 602.5) scale(1 1.12)" font-weight="bold" letter-spacing="0.72" stroke="#000" stroke-width="0.3" fill="#000">MaxWert</text>
<text transform="translate(8 618.5) scale(1 1.12)" font-weight="bold" letter-spacing="0.31" stroke="#000" stroke-width="0.3" fill="#000">Durchschnitt</text>
<text transform="translate(94.5 570.5) scale(1 1.12)" font-weight="bold" letter-spacing="0.59" stroke="#000" stroke-width="0.3" fill="#000">Temp. A.</text>
<text transform="translate(198.30 570.5) scale(1 1.12)" font-weight="bold" letter-spacing="0.3" stroke="#000" stroke-width="0.3" text-anchor="end" fill="#000">°C</text>
<text transform="translate(100.5 586.5) scale(1 1.12)" fill="#000">07:10</text>
<text transform="translate(198.3 586.5) scale(1 1.12)" text-anchor="end" fill="#000">5.4</text>
<text transform="translate(100.5 602.5) scale(1 1.12)" fill="#000">13:35</text>
<text transform="translate(198.3 602.5) scale(1 1.12)" text-anchor="end" fill="#000">16.1</text>
<text transform="translate(198.3 618.5) scale(1 1.12)" text-anchor="end" fill="#000">10.68</text>
<text transform="translate(212.8 570.5) scale(1 1.12)" font-weight="bold" letter-spacing="0.65" stroke="#000" stroke-width="0.3" fill="#000">Temp. I.</text>
<text transform="translate(315.80 570.5) scale(1 1.12)" font-weight="bold" letter-spacing="0.3" stroke="#000" stroke-width="0.3" text-anchor="end" fill="#000">°C</text>
<text transform="translate(218.5 586.5) scale(1 1.12)" fill="#000">07:05</text>
<text transform="translate(315.8 586.5) scale(1 1.12)" text-anchor="end" fill="#000">22.1</text>
<text transform="translate(218.5 602.5) scale(1 1.12)" fill="#000">20:25</text>
<text transform="translate(315.8 602.5) scale(1 1.12)" text-anchor="end" fill="#000">26.2</text>
<text transform="translate(315.8 618.5) scale(1 1.12)" text-anchor="end" fill="#000">23.81</text>
<text transform="translate(684.5 570.5) scale(1 1.12)" font-weight="bold" letter-spacing="0.29" stroke="#000" stroke-width="0.3" fill="#000">Luftdruck</text>
<text transform="translate(788.40 570.5) scale(1 1.12)" font-weight="bold" letter-spacing="1.0" stroke="#000" stroke-width="0.3" text-anchor="end" fill="#000">hPa</text>
<text transform="translate(690 586.5) scale(1 1.12)" fill="#000">01:50</text>
<text transform="translate(788.6999999999999 586.5) scale(1 1.12)" text-anchor="end" fill="#000">1018.0</text>
<text transform="translate(690 602.5) scale(1 1.12)" fill="#000">23:45</text>
<text transform="translate(788.6999999999999 602.5) scale(1 1.12)" text-anchor="end" fill="#000">1021.0</text>
<text transform="translate(685.0 618.5) scale(1 1.12)" fill="#000" textLength="50.5">^0.6hPa/h</text>
<text transform="translate(788.6999999999999 618.5) scale(1 1.12)" text-anchor="end" fill="#000">1019.0</text>
<text transform="translate(802.3 570.5) scale(1 1.12)" font-weight="bold" letter-spacing="0.95" stroke="#000" stroke-width="0.3" fill="#000">Regen</text>
<text transform="translate(906.30 570.5) scale(1 1.12)" font-weight="bold" letter-spacing="1.05" stroke="#000" stroke-width="0.3" text-anchor="end" fill="#000">l/m²</text>
<text transform="translate(808.5 602.5) scale(1 1.12)" fill="#000">00:00</text>
<text transform="translate(906.5999999999999 602.5) scale(1 1.12)" text-anchor="end" fill="#000">0.0</text>
<text transform="translate(802.8 618.5) scale(1 1.12)" fill="#000" textLength="38.5" lengthAdjust="spacingAndGlyphs">Gesamt:</text>
<text transform="translate(906.5999999999999 618.5) scale(1 1.12)" text-anchor="end" fill="#000">0.0</text>
<text transform="translate(920 570.5) scale(1 1.12)" font-weight="bold" letter-spacing="0.78" stroke="#000" stroke-width="0.3" fill="#000">Wind</text>
<text transform="translate(1021.70 570.5) scale(1 1.12)" font-weight="bold" letter-spacing="0.78" stroke="#000" stroke-width="0.3" text-anchor="end" fill="#000">km/h</text>
<text transform="translate(920.5 586.5) scale(1 1.12)" fill="#000">Ø 10 min.</text>
<text transform="translate(1022.0 586.5) scale(1 1.12)" text-anchor="end" fill="#000">1.7</text>
<text transform="translate(926 602.5) scale(1 1.12)" fill="#000">21:45</text>
<text transform="translate(1022.0 602.5) scale(1 1.12)" text-anchor="end" fill="#000">N 12.3</text>
<text transform="translate(1022.0 618.5) scale(1 1.12)" text-anchor="end" fill="#000">3.1</text>
</svg>
</body></html>
